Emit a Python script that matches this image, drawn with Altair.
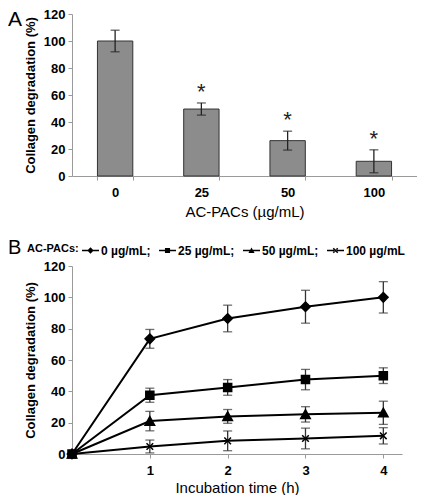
import altair as alt
import pandas as pd

# ---------- Panel A data ----------
conc = ["0", "25", "50", "100"]
bar_vals = [100, 49.6, 26.2, 10.9]
bar_errs = [8, 4.5, 7, 8.5]
sig = ["", "*", "*", "*"]

# ---------- Panel B data ----------
times = [0, 1, 2, 3, 4]
series_names = ["0 µg/mL", "25 µg/mL", "50 µg/mL", "100 µg/mL"]
mean_0 = [0, 73.5, 86.5, 94, 100]
err_0 = [0, 6, 8.5, 10.5, 10]
mean_25 = [0, 37.5, 42.5, 47.5, 50]
err_25 = [0, 4.5, 5, 6.5, 5]
mean_50 = [0, 21, 24, 25.3, 26.3]
err_50 = [0, 6.2, 4.4, 4.9, 7.4]
mean_100 = [0, 4.8, 8.4, 9.9, 11.6]
err_100 = [0, 4.1, 6.3, 6.6, 5.2]

y_ticks = [0, 20, 40, 60, 80, 100, 120]
x_ticks_B = [1, 2, 3, 4]

FONT = "Liberation Sans"
AXIS_GRAY = "#9a9a9a"

dfA = pd.DataFrame({"conc": conc, "val": bar_vals, "err": bar_errs, "sig": sig})
dfA["lo"] = dfA["val"] - dfA["err"]
dfA["hi"] = dfA["val"] + dfA["err"]

rows = []
for name, m, e in zip(series_names, [mean_0, mean_25, mean_50, mean_100],
                      [err_0, err_25, err_50, err_100]):
    for t, mv, ev in zip(times, m, e):
        rows.append({"series": name, "t": t, "mean": mv, "err": ev,
                     "lo": mv - ev, "hi": mv + ev})
dfB = pd.DataFrame(rows)

y_axis = alt.Axis(values=y_ticks, grid=False,
                  labelOverlap=False, labelFlush=False,
                  title="Collagen degradation (%)", titleFontWeight="bold",
                  titleFontSize=13, titlePadding=6,
                  labelFontWeight="bold", labelFontSize=13, labelColor="black",
                  tickSize=4, tickColor=AXIS_GRAY, domainColor=AXIS_GRAY,
                  labelPadding=3)
y_scale = alt.Scale(domain=[0, 120], nice=False)


def Y(field):
    return alt.Y(field, scale=y_scale, axis=y_axis)


# ---------- Panel A ----------
xA_axis = alt.Axis(title="AC-PACs (µg/mL)", titleFontWeight="normal",
                   titleFontSize=15, labelAngle=0, labelFontWeight="bold",
                   labelFontSize=13, labelColor="black", tickBand="extent",
                   tickSize=4, tickColor=AXIS_GRAY, domainColor=AXIS_GRAY,
                   labelPadding=6, titlePadding=5)
xA_scale = alt.Scale(paddingInner=0.59, paddingOuter=0.295)


def XA():
    return alt.X("conc:N", sort=conc, scale=xA_scale, axis=xA_axis)


baseA = alt.Chart(dfA)
bars = baseA.mark_bar(color="#8c8c8c", stroke="#333333", strokeWidth=1).encode(
    x=XA(), y=Y("val:Q"))
ruleA = baseA.mark_rule(color="#222222", strokeWidth=1.3).encode(
    x=XA(), y=Y("lo:Q"), y2="hi:Q")
capA = baseA.mark_tick(color="#222222", thickness=1.3, size=9, orient="horizontal")
capA_lo = capA.encode(x=XA(), y=Y("lo:Q"))
capA_hi = capA.encode(x=XA(), y=Y("hi:Q"))
stars = baseA.mark_text(fontSize=22, font=FONT, baseline="middle", dy=-11,
                        color="#222222").encode(
    x=XA(), y=Y("hi:Q"), text="sig:N")
labA = alt.Chart(pd.DataFrame({"t": ["A"]})).mark_text(
    fontSize=21, font=FONT, align="left", baseline="top").encode(
    x=alt.value(-64), y=alt.value(-5), text="t:N")

panelA = alt.layer(bars, ruleA, capA_lo, capA_hi, stars, labA).properties(
    width=345, height=162)

# ---------- Panel B ----------
marker_paths = ["M0,-1L1,0L0,1L-1,0Z",
                "M-0.85,-0.85H0.85V0.85H-0.85Z",
                "M-1,0.85L0,-0.95L1,0.85Z",
                "M-0.7,-0.7L0.7,0.7M-0.7,0.7L0.7,-0.7"]
DASH = "M-1,-0.09H1V0.09H-1Z"
legend_paths = [DASH + "M-0.38,0L0,-0.38L0.38,0L0,0.38Z",
                DASH + "M-0.3,-0.3H0.3V0.3H-0.3Z",
                DASH + "M-0.36,0.3L0,-0.36L0.36,0.3Z",
                DASH + "M-0.2,-0.32L0.32,0.2L0.2,0.32L-0.32,-0.2Z"
                       "M-0.2,0.32L0.32,-0.2L0.2,-0.32L-0.32,0.2Z"]

xB_axis = alt.Axis(values=x_ticks_B, format="d", grid=False,
                   title="Incubation time (h)", titleFontWeight="normal",
                   titleFontSize=15, labelFontWeight="bold",
                   labelFontSize=13, labelColor="black", tickSize=4,
                   tickColor=AXIS_GRAY, domainColor=AXIS_GRAY,
                   labelPadding=6, titlePadding=3)
xB_scale = alt.Scale(domain=[0, 4.24], nice=False)


def XB():
    return alt.X("t:Q", scale=xB_scale, axis=xB_axis)


baseB = alt.Chart(dfB)
lines = baseB.mark_line(color="black", strokeWidth=2).encode(
    x=XB(), y=Y("mean:Q"), detail="series:N")
errB = baseB.transform_filter("datum.err > 0")
ruleB = errB.mark_rule(color="#333333", strokeWidth=1.3).encode(
    x=XB(), y=Y("lo:Q"), y2="hi:Q")
capB = errB.mark_tick(color="#333333", thickness=1.3, size=9, orient="horizontal")
capB_lo = capB.encode(x=XB(), y=Y("lo:Q"))
capB_hi = capB.encode(x=XB(), y=Y("hi:Q"))
points = baseB.mark_point(filled=True, color="black", stroke="black",
                          strokeWidth=1.5, size=90, opacity=1).encode(
    x=XB(), y=Y("mean:Q"),
    shape=alt.Shape("series:N", scale=alt.Scale(domain=series_names,
                                                range=marker_paths),
                    legend=None))
legend_layer = baseB.transform_filter("false").mark_point(
    filled=True, color="black").encode(
    x=XB(), y=Y("mean:Q"),
    shape=alt.Shape("series:N",
                    scale=alt.Scale(domain=series_names, range=legend_paths),
                    legend=alt.Legend(
                        title="AC-PACs:", titleOrient="left", orient="none",
                        legendX=-45, legendY=-24, direction="horizontal",
                        symbolSize=289, symbolStrokeWidth=0,
                        symbolFillColor="black", symbolOpacity=1,
                        labelFontSize=12, labelFontWeight="bold",
                        labelColor="black", labelOffset=2,
                        titleFontSize=11, titleFontWeight="bold",
                        titleColor="black", titlePadding=3,
                        columnPadding=8, gridAlign="none",
                        labelExpr="datum.label == '100 µg/mL' ? datum.label : datum.label + ';'")))
labB = alt.Chart(pd.DataFrame({"t": ["B"]})).mark_text(
    fontSize=20, font=FONT, align="left", baseline="top").encode(
    x=alt.value(-64), y=alt.value(-28), text="t:N")

panelB = alt.layer(lines, ruleB, capB_lo, capB_hi, points, legend_layer,
                   labB).resolve_scale(shape="independent").properties(
    width=330, height=188)

chart = alt.vconcat(panelA, panelB, spacing=19).configure(
    font=FONT, padding=0
).configure_view(stroke=None).configure_axis(
    labelFont=FONT, titleFont=FONT, labelOverlap=False)

chart.save("out.html", embed_options={"renderer": "svg", "actions": False})
